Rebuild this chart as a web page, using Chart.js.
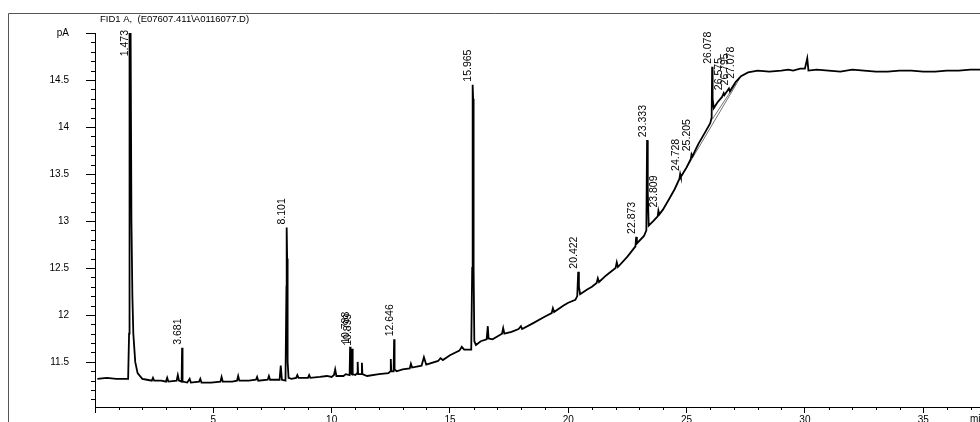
<!DOCTYPE html>
<html>
<head>
<meta charset="utf-8">
<script src="https://cdn.jsdelivr.net/npm/chart.js@4"></script>
<style>
  body { margin: 0; background: #fff; }
  canvas { display: block; }
</style>
</head>
<body>
<canvas id="gcChart" width="980" height="422"></canvas>
<script>
// DATA
const chartTitle = "FID1 A,  (E07607.411\\A0116077.D)";

const times = [
  0.10, 0.50, 0.90, 1.20, 1.40, 1.44, 1.46, 1.50, 1.54, 1.58, 1.62, 1.70, 1.80, 2.00, 2.20,
  2.40, 2.45, 2.50, 2.80, 3.00, 3.05, 3.10, 3.45, 3.50, 3.55, 3.66, 3.68, 3.70, 3.90, 4.00,
  4.05, 4.40, 4.45, 4.50, 4.90, 5.30, 5.35, 5.40, 5.80, 6.00, 6.05, 6.10, 6.50, 6.80, 6.85,
  6.90, 7.30, 7.35, 7.40, 7.80, 7.85, 7.90, 8.05, 8.09, 8.10, 8.12, 8.14, 8.18, 8.30, 8.50,
  8.55, 8.60, 9.00, 9.05, 9.10, 9.50, 9.80, 10.00, 10.10, 10.15, 10.20, 10.50, 10.60, 10.76, 10.78,
  10.80, 10.85, 10.87, 10.89, 11.00, 11.08, 11.10, 11.12, 11.25, 11.28, 11.30, 11.50, 12.00, 12.40, 12.48,
  12.50, 12.52, 12.62, 12.64, 12.66, 12.75, 13.00, 13.30, 13.35, 13.40, 13.80, 13.90, 14.00, 14.50, 14.60,
  14.70, 15.00, 15.40, 15.50, 15.60, 15.90, 15.94, 15.96, 15.98, 16.00, 16.03, 16.10, 16.30, 16.55, 16.60,
  16.63, 16.80, 17.00, 17.20, 17.25, 17.30, 17.60, 17.90, 18.00, 18.05, 18.50, 19.00, 19.30, 19.35, 19.40,
  19.80, 20.00, 20.30, 20.38, 20.42, 20.45, 20.50, 20.80, 21.00, 21.20, 21.25, 21.30, 21.60, 22.00, 22.05,
  22.10, 22.50, 22.84, 22.87, 22.90, 23.20, 23.30, 23.33, 23.36, 23.40, 23.60, 23.78, 23.81, 23.85, 24.00,
  24.30, 24.50, 24.70, 24.73, 24.76, 25.00, 25.18, 25.21, 25.25, 25.50, 25.80, 26.00, 26.06, 26.08, 26.10,
  26.15, 26.30, 26.50, 26.57, 26.60, 26.79, 26.83, 27.00, 27.08, 27.30, 27.60, 28.00, 28.50, 29.00, 29.30,
  29.50, 29.80, 30.00, 30.10, 30.15, 30.50, 31.00, 31.50, 32.00, 32.50, 33.00, 33.50, 34.00, 34.50, 35.00,
  35.50, 36.00, 36.50, 37.00, 37.40
];

const signal = [
  11.32, 11.33, 11.32, 11.32, 11.32, 11.80, 15.30, 15.30, 13.00, 12.20, 11.80, 11.50, 11.38, 11.32, 11.31,
  11.30, 11.33, 11.30, 11.30, 11.29, 11.33, 11.29, 11.30, 11.36, 11.30, 11.29, 11.65, 11.29, 11.28, 11.32,
  11.28, 11.29, 11.32, 11.28, 11.28, 11.29, 11.34, 11.29, 11.29, 11.30, 11.35, 11.30, 11.30, 11.31, 11.34,
  11.30, 11.31, 11.35, 11.31, 11.31, 11.46, 11.31, 11.30, 12.30, 12.93, 12.60, 11.50, 11.33, 11.32, 11.33,
  11.36, 11.33, 11.33, 11.36, 11.33, 11.34, 11.35, 11.34, 11.36, 11.42, 11.35, 11.35, 11.37, 11.36, 11.66,
  11.38, 11.37, 11.64, 11.37, 11.36, 11.38, 11.50, 11.37, 11.37, 11.49, 11.37, 11.35, 11.37, 11.38, 11.40,
  11.53, 11.40, 11.40, 11.74, 11.42, 11.40, 11.42, 11.43, 11.48, 11.44, 11.46, 11.55, 11.47, 11.51, 11.54,
  11.52, 11.57, 11.62, 11.66, 11.63, 11.63, 12.50, 14.45, 14.30, 12.50, 11.72, 11.68, 11.72, 11.74, 11.88,
  11.75, 11.74, 11.77, 11.80, 11.86, 11.80, 11.82, 11.85, 11.88, 11.85, 11.91, 11.98, 12.02, 12.07, 12.03,
  12.10, 12.13, 12.16, 12.20, 12.46, 12.30, 12.22, 12.27, 12.30, 12.34, 12.39, 12.35, 12.42, 12.50, 12.56,
  12.51, 12.62, 12.73, 12.83, 12.76, 12.84, 12.90, 13.86, 13.30, 12.95, 13.00, 13.05, 13.11, 13.07, 13.12,
  13.25, 13.34, 13.45, 13.50, 13.47, 13.57, 13.66, 13.71, 13.69, 13.82, 13.95, 14.04, 14.10, 14.64, 14.30,
  14.20, 14.26, 14.32, 14.36, 14.34, 14.41, 14.38, 14.45, 14.48, 14.54, 14.58, 14.60, 14.59, 14.60, 14.61,
  14.60, 14.62, 14.62, 14.73, 14.60, 14.61, 14.60, 14.59, 14.61, 14.60, 14.59, 14.59, 14.60, 14.60, 14.59,
  14.59, 14.60, 14.60, 14.61, 14.61
];

// retention times printed over the peaks
const peakLabels = ["1.473", "3.681", "8.101", "10.788", "10.899", "12.646", "15.965", "20.422",
  "22.873", "23.333", "23.809", "24.728", "25.205", "26.078", "26.575", "26.795", "27.078"];

// straight integration baselines drawn under the late peaks
const baseA_t = [24.73, 27.30];
const baseA_y = [13.45, 14.54];
const baseB_t = [26.08, 27.08];
const baseB_y = [14.08, 14.46];

const yMin = 11.02, yMax = 15.0;
const xMin = 0, xMax = 37.4;

const FONT = "'Liberation Sans', Arial, sans-serif";

document.addEventListener("DOMContentLoaded", function () {

    const pts = times.map((t, i) => ({ x: t, y: signal[i] }));

    // EXTRA DRAWING: frame, title, tick marks, peak labels
    const decor = {
        id: "decor",
        afterDraw(chart) {
            const c = chart.ctx;
            const xs = chart.scales.x, ys = chart.scales.y;
            const area = chart.chartArea;
            c.save();

            // frame
            c.strokeStyle = "#555";
            c.lineWidth = 1;
            c.beginPath();
            c.moveTo(8.5, 422);
            c.lineTo(8.5, 13.5);
            c.lineTo(980, 13.5);
            c.stroke();

            c.fillStyle = "#000";
            c.font = "9.5px " + FONT;
            c.textBaseline = "middle";
            c.textAlign = "left";
            c.fillText(chartTitle, 100, 19);

            // x unit, cut by the edge like the print
            c.font = "10px " + FONT;
            c.textBaseline = "top";
            c.fillText("min", 970, area.bottom + 7);

            // y ticks: long at every 0.5, short at every 0.1
            c.strokeStyle = "#000";
            c.beginPath();
            for (let i = 111; i <= 150; i++) {
                const len = i % 5 === 0 ? 9 : 4;
                const py = Math.round(ys.getPixelForValue(i / 10)) + 0.5;
                c.moveTo(area.left - len, py);
                c.lineTo(area.left, py);
            }
            // x minor ticks every minute
            for (let m = 1; m <= 37; m++) {
                if (m % 5 === 0) continue;
                const px = Math.round(xs.getPixelForValue(m)) + 0.5;
                c.moveTo(px, area.bottom);
                c.lineTo(px, area.bottom + 3);
            }
            c.stroke();

            // peak labels, rotated, sitting just above each apex
            c.font = "10.5px " + FONT;
            c.textAlign = "left";
            c.textBaseline = "bottom";
            peakLabels.forEach(lbl => {
                const t = parseFloat(lbl);
                let best = null;
                times.forEach((tt, i) => {
                    if (Math.abs(tt - t) <= 0.04 && (best === null || signal[i] > signal[best])) best = i;
                });
                if (best === null) return;
                const px = xs.getPixelForValue(times[best]);
                let py = ys.getPixelForValue(Math.min(signal[best], yMax)) - 3;
                const w = c.measureText(lbl).width;
                if (py - w < area.top - 3) py = area.top - 3 + w;
                c.save();
                c.translate(px + 1, py);
                c.rotate(-Math.PI / 2);
                c.fillText(lbl, 0, 0);
                c.restore();
            });

            c.restore();
        }
    };

    new Chart(document.getElementById("gcChart"), {
        type: "line",
        data: {
            datasets: [
                {
                    data: pts,
                    borderColor: "#000",
                    borderWidth: 1.8,
                    pointRadius: 0,
                    tension: 0
                },
                {
                    data: baseA_t.map((t, i) => ({ x: t, y: baseA_y[i] })),
                    borderColor: "#333",
                    borderWidth: 0.7,
                    pointRadius: 0
                },
                {
                    data: baseB_t.map((t, i) => ({ x: t, y: baseB_y[i] })),
                    borderColor: "#333",
                    borderWidth: 0.7,
                    pointRadius: 0
                }
            ]
        },
        options: {
            responsive: false,
            animation: false,
            devicePixelRatio: 1,
            layout: { padding: { top: 33, right: 0, left: 0, bottom: 0 } },
            plugins: {
                legend: { display: false },
                tooltip: { enabled: false }
            },
            scales: {
                x: {
                    type: "linear",
                    min: xMin,
                    max: xMax,
                    afterFit(s) { s.height = 15; },
                    border: { display: true, color: "#000", width: 1 },
                    grid: { drawOnChartArea: false, tickLength: 6, color: "#000" },
                    ticks: {
                        stepSize: 5,
                        includeBounds: false,
                        autoSkip: false,
                        maxRotation: 0,
                        padding: 1,
                        color: "#000",
                        font: { family: FONT, size: 10 },
                        callback: v => (v === 0 ? "" : v)
                    }
                },
                y: {
                    min: yMin,
                    max: yMax,
                    afterFit(s) { s.width = 95; },
                    border: { display: true, color: "#000", width: 1 },
                    // tick marks are drawn by the plugin; the long invisible tick only pushes the labels left
                    grid: { drawOnChartArea: false, tickLength: 26, tickColor: "rgba(0,0,0,0)" },
                    ticks: {
                        stepSize: 0.5,
                        includeBounds: false,
                        autoSkip: false,
                        padding: 0,
                        color: "#000",
                        font: { family: FONT, size: 10 },
                        callback: v => (Math.abs(v - 15) < 1e-6 ? "pA" : v)
                    }
                }
            }
        },
        plugins: [decor]
    });

});
</script>
</body>
</html>
